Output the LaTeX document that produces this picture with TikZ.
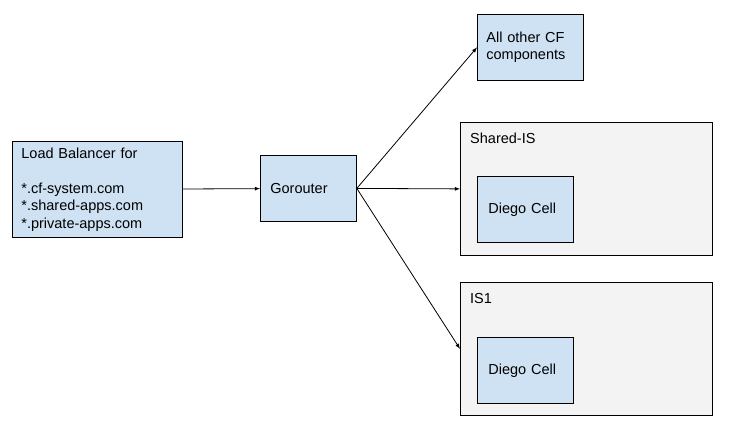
\documentclass[tikz,border=0pt]{standalone}
\usepackage{fontspec}
\setmainfont{Liberation Sans}
\definecolor{boxblue}{HTML}{CFE2F3}
\definecolor{groupgray}{HTML}{F3F3F3}

\tikzset{
  box/.style={draw, line width=0.8pt, fill=boxblue, anchor=north west, align=left,
    inner ysep=0pt, font=\fontsize{14.5}{17.5}\selectfont},
  group/.style={draw, line width=0.8pt, fill=groupgray, anchor=north west,
    minimum width=252pt, minimum height=133pt, inner sep=0pt},
  grouplabel/.style={anchor=north west, inner sep=0pt, font=\fontsize{14.5}{17}\selectfont},
  conn/.style={->, line width=0.8pt, >=latex},
}

\begin{document}
\begin{tikzpicture}[x=1pt, y=-1pt]
\useasboundingbox (0,0) rectangle (733,428);

% isolation segments
\node[group] (shared) at (460,122) {};
\node[grouplabel] (sharedlabel) at (470,133) {Shared-IS};
\node[group] (is1) at (460,282) {};
\node[grouplabel] (is1label) at (470,293) {IS1};

% boxes
\node[box, minimum height=96pt, inner xsep=9pt, text width=152pt] (lb) at (12,141)
  {Load Balancer for\\[17.5pt]{*}.cf-system.com\\{*}.shared-apps.com\\{*}.private-apps.com};
\node[box, minimum height=66pt, inner xsep=10pt, text width=76pt] (gr) at (260,155) {Gorouter};
\node[box, minimum height=66pt, inner xsep=9pt, text width=88pt] (cf) at (477,14) {All other CF\\components};
\node[box, minimum height=66pt, inner xsep=11pt, text width=74pt] (cell1) at (477,176) {Diego Cell};
\node[box, minimum height=66pt, inner xsep=11pt, text width=74pt] (cell2) at (477,337) {Diego Cell};

% connectors
\draw[conn] (lb) -- (gr);
\draw[conn] (gr.east) -- (cf.west);
\draw[conn] (gr.east) -- (shared.west);
\draw[conn] (gr.east) -- (is1.west);

\end{tikzpicture}
\end{document}
